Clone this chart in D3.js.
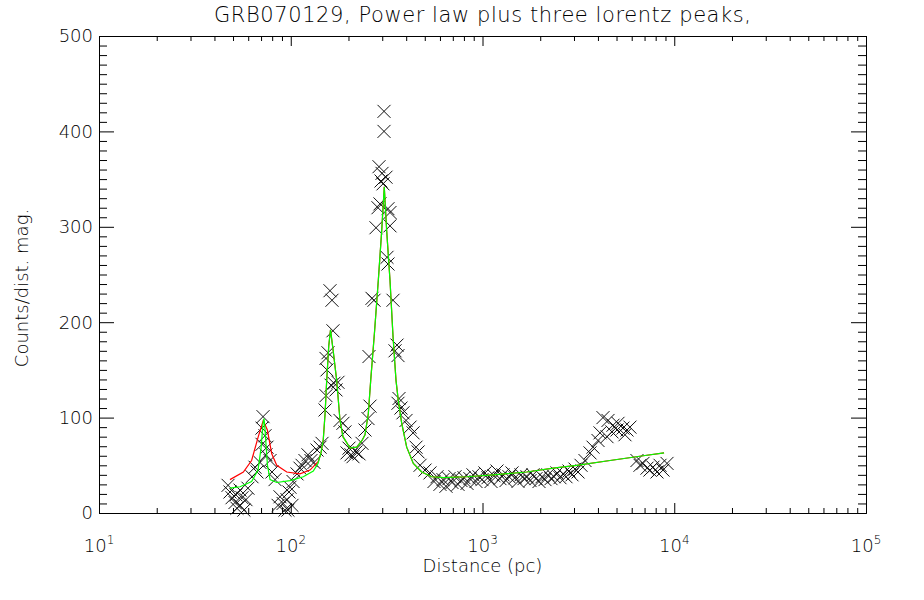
<!DOCTYPE html>
<html>
<head>
<meta charset="utf-8">
<script src="https://cdn.jsdelivr.net/npm/d3@7"></script>
<style>
  body { margin: 0; background: #fff; }
  text { font-family: "DejaVu Sans", sans-serif; font-weight: 200; fill: #000; }
</style>
</head>
<body>
<svg id="chart" width="924" height="600"></svg>
<script>
// ---- data ----
// measured points (distance in pc, counts per distance magnitude)
const distance = [
  47.1, 48.2, 49.4, 51.2, 52.4, 54.4, 55.7, 57.0, 58.4, 54.4, 51.8, 59.8,
  71.7, 70.8, 73.4, 70.8, 75.2, 69.1, 66.7, 62.8, 65.1, 78.0, 79.8, 82.8, 74.3,
  85.9, 87.9, 91.2, 93.3, 95.6, 97.9, 99.1, 101.5, 96.7,
  102.8, 107.8, 111.7, 114.5, 118.6, 123, 127.5, 132.2, 137.1, 142.2, 145.6,
  151, 152.7, 154.5, 152.7, 156.4, 160.2, 164.1, 166, 162.2, 168.1, 172.2, 176.3, 180.7,
  187.2, 191.7, 196.5, 201.3, 206.2, 211.2, 218.9, 227, 235.3, 243.9, 252.9, 259,
  265.3, 255.9, 271.8, 278.3, 285.1, 288.6, 291.9, 295.6, 299.2, 302.8, 306.5, 306.5,
  313.9, 317.7, 321.4, 321.4, 329.3, 329.3, 341.5, 349.8, 358.2, 362.5, 366.9,
  362.5, 375.8, 384.8, 399.2, 418.8, 434.5, 450, 461.5, 472.5, 501.5, 532.3,
  558.6, 579, 600, 622.3, 645.1, 668.8, 693.3, 718.8, 745.1, 772.5, 800.8, 830.3,
  860, 892.3, 925, 959, 994, 1030, 1068, 1108, 1148, 1190, 1233, 1279, 1326, 1375,
  1425, 1478, 1532, 1588, 1646, 1707, 1770, 1834, 1901, 1971, 2043, 2118, 2196,
  2277, 2360, 2447, 2535, 2629, 2726, 2826, 2930, 3037, 3149, 3264,
  3424, 3637, 3771, 4003, 4100,
  4250, 4460, 4514, 4735, 4792, 5027, 5089, 5403, 5534, 5670, 5874,
  6391, 6628, 6871, 7211, 7468, 7749, 8128, 8429, 8737, 9167
];
const counts = [
  29, 22, 16, 11, 5, 8, 16, 3, 14, 24, 19, 26,
  101, 89, 81, 72, 69, 53, 43, 38, 48, 55, 43, 35, 61,
  8, 17, 10, 3, 14, 22, 27, 8, 3,
  33, 41, 47, 50, 55, 61, 55, 53, 66, 69, 73,
  108, 123, 150, 162, 168, 233, 223, 191, 134, 136, 129, 137, 97,
  94, 85, 63, 68, 61, 59, 64, 62, 73, 87, 99, 112,
  225, 164, 223, 299, 320, 363, 324, 348, 356, 345, 421, 400,
  352, 268, 319, 261, 315, 301, 223, 170, 176, 165, 120,
  115, 110, 105, 97, 90, 84, 69, 64, 50, 45, 42,
  33, 38, 30, 35, 28, 36, 32, 38, 30, 34, 37, 31,
  36, 40, 33, 38, 35, 42, 37, 33, 39, 44, 36, 40, 34, 38,
  42, 37, 33, 40, 36, 38, 34, 40, 36, 33, 38, 35, 40,
  36, 38, 42, 37, 41, 38, 44, 40, 46, 43, 50,
  55, 63, 69, 76, 84,
  100, 80, 97, 85, 92, 87, 94, 89, 82, 87, 90,
  55, 50, 52, 47, 45, 48, 43, 50, 45, 52
];

// green fit: power law plus three lorentz peaks
const greenDist = [
  48.2, 54.4, 62.5, 67.5, 70.0, 71.7, 72.5, 73.4, 74.3, 75.6, 78.0, 84.5, 99.1,
  116.3, 131.1, 138.7, 143.8, 147.8, 151, 154, 157.8, 161.2, 166, 173.6, 180.7,
  187.2, 203.8, 220.9, 235.3, 243.9, 253.8, 261.2, 273.5, 286.2, 298.1, 307.4,
  316.4, 329.3, 341.5, 353.9, 363.8, 379.1, 402.4, 435.7, 482, 543.5, 624.6,
  827.3, 1139, 1701, 2340, 3099, 4623, 6896, 8847
];
const greenVal = [
  26, 27.5, 33, 45, 68, 94, 99, 88, 72, 50, 35, 32, 34,
  38, 44, 52, 63, 77, 104, 139, 175, 192, 172, 139, 97,
  80, 68, 69, 76, 82, 104, 139, 190, 244, 296, 342,
  296, 244, 185, 139, 118, 94, 69, 52, 43, 38, 37,
  38, 40, 43, 47, 50, 55, 60, 63
];
// red fit: differs from the green one only around the first peak
const redHeadDist = [48.2, 56.6, 62.5, 67.7, 71.9, 75.5, 79.6, 84.5, 95.3, 111.7, 126, 139.2];
const redHeadVal  = [35, 43, 55, 80, 97, 87, 62, 50, 43, 41, 45, 54];

const titleText = "GRB070129, Power law plus three lorentz peaks,";
const xTitle = "Distance (pc)";
const yTitle = "Counts/dist. mag.";
const xMajor = [10, 100, 1000, 10000, 100000];
const xExp = ["1", "2", "3", "4", "5"];
const yMajor = [0, 100, 200, 300, 400, 500];

// ---- layout ----
const frame = {left: 99, right: 866, top: 36, bottom: 513};
const svg = d3.select("#chart");

const x = d3.scaleLog().domain([10, 1e5]).range([frame.left, frame.right]);
const y = d3.scaleLinear().domain([0, 500]).range([frame.bottom, frame.top]);

// minor tick positions
const xMinor = [];
[10, 100, 1000, 10000].forEach(dec => d3.range(2, 10).forEach(m => xMinor.push(dec * m)));
const yMinor = d3.range(10, 500, 10).filter(v => v % 100 !== 0);

// ---- axes, ticks point inward on all four sides ----
function drawAxis(axisFn, scale, values, size, transform) {
  svg.append("g")
    .attr("transform", transform)
    .call(axisFn(scale).tickValues(values).tickSizeInner(-size).tickSizeOuter(0).tickFormat(""))
    .call(g => g.selectAll("line,path").attr("stroke", "#000").attr("stroke-width", 1));
}
drawAxis(d3.axisBottom, x, xMajor, 10, `translate(0,${frame.bottom})`);
drawAxis(d3.axisBottom, x, xMinor, 5, `translate(0,${frame.bottom})`);
drawAxis(d3.axisTop, x, xMajor, 10, `translate(0,${frame.top})`);
drawAxis(d3.axisTop, x, xMinor, 5, `translate(0,${frame.top})`);
drawAxis(d3.axisLeft, y, yMajor, 15, `translate(${frame.left},0)`);
drawAxis(d3.axisLeft, y, yMinor, 8, `translate(${frame.left},0)`);
drawAxis(d3.axisRight, y, yMajor, 15, `translate(${frame.right},0)`);
drawAxis(d3.axisRight, y, yMinor, 8, `translate(${frame.right},0)`);

// y tick labels
svg.append("g").selectAll("text")
  .data(yMajor)
  .join("text")
  .attr("x", frame.left - 6)
  .attr("y", d => y(d))
  .attr("dy", "0.36em")
  .attr("text-anchor", "end")
  .style("font-size", "18px")
  .text(d => d);

// x tick labels as 10 with superscript exponent
const xl = svg.append("g").selectAll("text")
  .data(xMajor)
  .join("text")
  .attr("x", d => x(d))
  .attr("y", frame.bottom + 39)
  .attr("text-anchor", "middle")
  .style("font-size", "18px");
xl.append("tspan").text("10");
xl.append("tspan").attr("dy", -8).style("font-size", "12px").text((d, i) => xExp[i]);

// titles
svg.append("text")
  .attr("x", (frame.left + frame.right) / 2)
  .attr("y", 22)
  .attr("text-anchor", "middle")
  .attr("textLength", 537)
  .attr("lengthAdjust", "spacing")
  .style("font-size", "21px")
  .text(titleText);

svg.append("text")
  .attr("x", (frame.left + frame.right) / 2)
  .attr("y", 572)
  .attr("text-anchor", "middle")
  .style("font-size", "18px")
  .text(xTitle);

svg.append("text")
  .attr("transform", `translate(28,288) rotate(-90)`)
  .attr("text-anchor", "middle")
  .style("font-size", "18px")
  .text(yTitle);

// ---- data markers (X symbols) ----
const plot = svg.append("g");
const half = 6.5;
plot.selectAll("path.pt")
  .data(distance.map((d, i) => [d, counts[i]]))
  .join("path")
  .attr("class", "pt")
  .attr("d", p => {
    const cx = x(p[0]), cy = y(p[1]);
    return `M${cx - half},${cy - half}L${cx + half},${cy + half}M${cx - half},${cy + half}L${cx + half},${cy - half}`;
  })
  .attr("stroke", "#111")
  .attr("stroke-width", 1)
  .attr("fill", "none");

// ---- fitted curves ----
const line = d3.line().x(p => x(p[0])).y(p => y(p[1]));
const greenPts = greenDist.map((d, i) => [d, greenVal[i]]);
const redPts = redHeadDist.map((d, i) => [d, redHeadVal[i]])
  .concat(greenPts.filter(p => p[0] > redHeadDist[redHeadDist.length - 1]));

plot.append("path")
  .attr("d", line(redPts))
  .attr("fill", "none")
  .attr("stroke", "#ff0000")
  .attr("stroke-width", 1.2);

plot.append("path")
  .attr("d", line(greenPts))
  .attr("fill", "none")
  .attr("stroke", "#00ff00")
  .attr("stroke-width", 1.2);
</script>
</body>
</html>
